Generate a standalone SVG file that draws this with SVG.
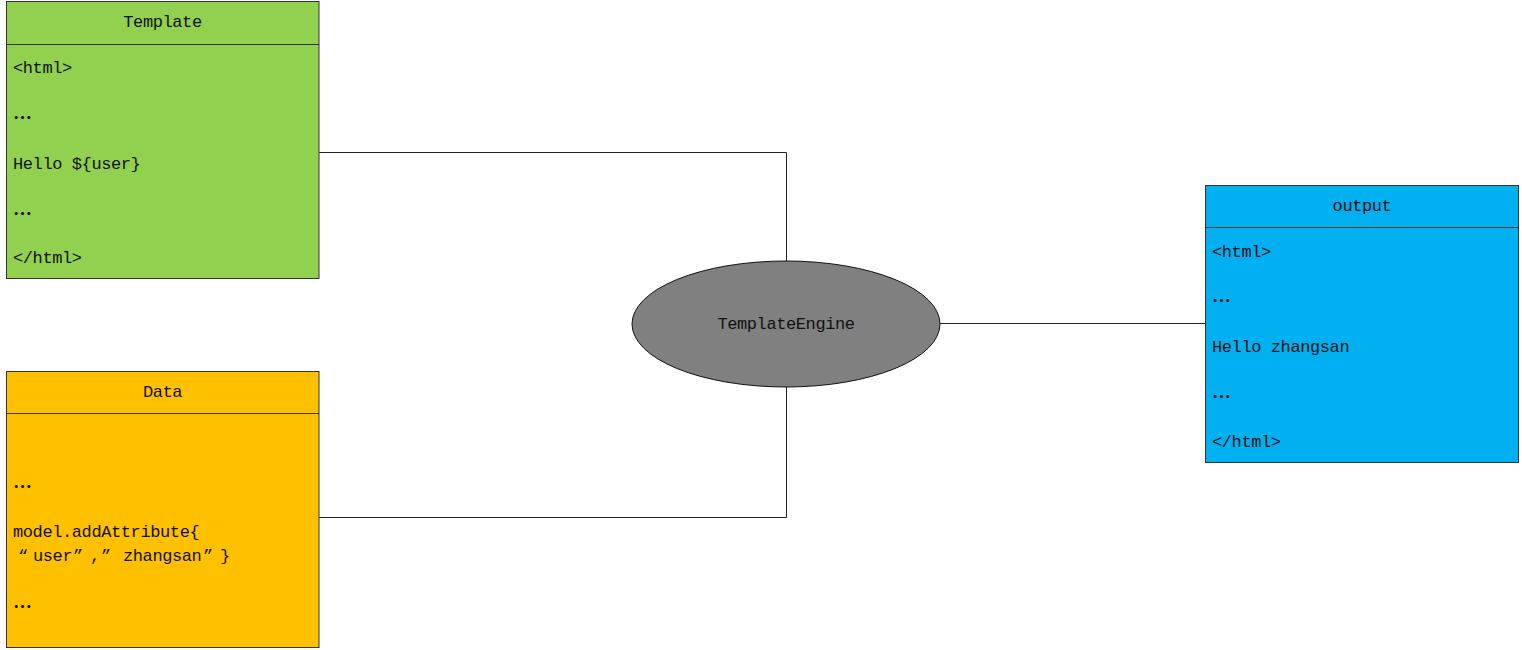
<svg xmlns="http://www.w3.org/2000/svg" width="1522" height="650" viewBox="0 0 1522 650">
<style>
.box{stroke:#333;stroke-width:1}
.t{font-family:"Liberation Mono","Noto Sans CJK SC",monospace;font-size:17px;letter-spacing:-0.4px;fill:#111}
.c{text-anchor:middle;dominant-baseline:central}
.dots{font-family:"Noto Sans CJK SC",sans-serif;font-size:19px;font-weight:bold;fill:#111}
.conn{fill:none;stroke:#222;stroke-width:1}
</style>
<rect width="1522" height="650" fill="#fff"/>
<g id="connectors">
<polyline class="conn" points="319,152.5 786.5,152.5 786.5,261"/>
<polyline class="conn" points="786.5,387 786.5,517.5 319,517.5"/>
<line class="conn" x1="940" y1="323.5" x2="1205" y2="323.5"/>
</g>
<g id="template">
<rect class="box" x="6.5" y="1.5" width="312.5" height="277" fill="#92d050"/>
<line class="box" x1="6.5" y1="44.5" x2="319" y2="44.5"/>
<text class="t c" x="162.5" y="22.5">Template</text>
<text class="t" x="13" y="73">&lt;html&gt;</text>
<text class="dots" x="13" y="125">…</text>
<text class="t" x="13" y="169">Hello ${user}</text>
<text class="dots" x="13" y="221">…</text>
<text class="t" x="13" y="263">&lt;/html&gt;</text>
</g>
<g id="data">
<rect class="box" x="6.5" y="371.5" width="312.5" height="276" fill="#ffc000"/>
<line class="box" x1="6.5" y1="413.5" x2="319" y2="413.5"/>
<text class="t c" x="162.5" y="392">Data</text>
<text class="dots" x="13" y="494">…</text>
<text class="t" x="13" y="537">model.addAttribute{</text>
<text class="t" y="561"><tspan x="18">“</tspan><tspan x="33">user</tspan><tspan x="73">”</tspan><tspan x="90">,</tspan><tspan x="101">”</tspan><tspan x="123">zhangsan</tspan><tspan x="203">”</tspan><tspan x="220">}</tspan></text>
<text class="dots" x="13" y="614">…</text>
</g>
<g id="engine">
<ellipse cx="786" cy="324" rx="154" ry="63" fill="#808080" stroke="#111" stroke-width="1"/>
<text class="t c" x="786" y="324.5">TemplateEngine</text>
</g>
<g id="output">
<rect class="box" x="1205.5" y="185.5" width="313" height="277" fill="#00b0f0"/>
<line class="box" x1="1205.5" y1="227.5" x2="1518.5" y2="227.5"/>
<text class="t c" x="1362" y="206.5">output</text>
<text class="t" x="1212" y="257">&lt;html&gt;</text>
<text class="dots" x="1212" y="308">…</text>
<text class="t" x="1212" y="352">Hello zhangsan</text>
<text class="dots" x="1212" y="404">…</text>
<text class="t" x="1212" y="447">&lt;/html&gt;</text>
</g>
</svg>
